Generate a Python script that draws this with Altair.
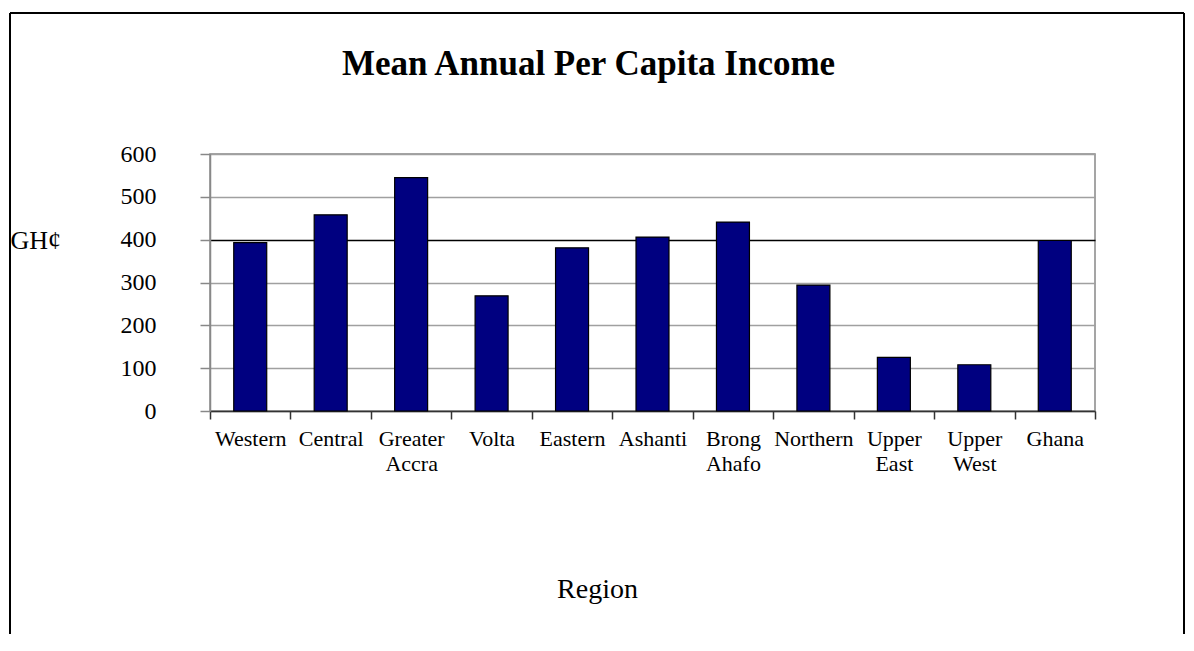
import altair as alt
import pandas as pd

regions = ["Western", "Central", "Greater Accra", "Volta", "Eastern", "Ashanti",
           "Brong Ahafo", "Northern", "Upper East", "Upper West", "Ghana"]
income = [393, 458, 545, 269, 381, 406, 441, 294, 125, 108, 398]

df = pd.DataFrame({"Region": regions, "Income": income})

SERIF = "Liberation Serif"
W, H = 885, 257

bars = alt.Chart(df).mark_bar(
    color="#000080", stroke="black", strokeWidth=1.2,
    width=alt.RelativeBandSize(0.41)
).encode(
    x=alt.X("Region:N", sort=regions,
            scale=alt.Scale(paddingInner=0, paddingOuter=0),
            axis=alt.Axis(
                title="Region", titleFont=SERIF, titleFontSize=28, titleFontWeight="normal",
                titleColor="black", titleX=387, titleY=186, titleAnchor="start",
                titleAlign="center", titleBaseline="alphabetic",
                labelFont=SERIF, labelFontSize=22, labelColor="black", labelAngle=0,
                labelAlign="center", labelBaseline="top", labelPadding=9,
                labelLineHeight=25, labelExpr="split(datum.label, ' ')",
                tickBand="extent", tickSize=8, tickColor="#333", tickWidth=1.5,
                domainColor="#333", domainWidth=1.5, grid=False, labelOverlap=False)),
    y=alt.Y("Income:Q",
            scale=alt.Scale(domain=[0, 600], nice=False),
            axis=alt.Axis(
                values=[0, 100, 200, 300, 400, 500, 600],
                title="GH¢", titleFont=SERIF, titleFontSize=26, titleFontWeight="normal",
                titleColor="black", titleAngle=0, titleX=-200, titleY=86,
                titleAlign="left", titleBaseline="middle",
                labelFont=SERIF, labelFontSize=24, labelColor="black",
                labelPadding=44, tickSize=10, tickColor="#888", tickWidth=1.5,
                domainColor="#888", domainWidth=1.5,
                grid=True, gridWidth=1.5,
                gridColor={"condition": {"test": "datum.value === 400", "value": "black"},
                           "value": "#a0a0a0"})),
)

frame_top = alt.Chart(df).mark_rule(color="black", strokeWidth=2).encode(
    x=alt.value(-200), x2=alt.value(974), y=alt.value(-141))
frame_left = alt.Chart(df).mark_rule(color="black", strokeWidth=2).encode(
    x=alt.value(-200), y=alt.value(-141), y2=alt.value(480))
frame_right = alt.Chart(df).mark_rule(color="black", strokeWidth=2).encode(
    x=alt.value(974), y=alt.value(-141), y2=alt.value(480))

chart = alt.layer(bars, frame_top, frame_left, frame_right).properties(
    width=W, height=H,
    autosize=alt.AutoSizeParams(type="none"),
    padding={"left": 202, "top": 146, "right": 91, "bottom": 229},
    title=alt.TitleParams(
        "Mean Annual Per Capita Income", font=SERIF, fontSize=35, fontWeight="bold",
        color="black", anchor="middle", dx=-64, offset=-98, baseline="alphabetic"),
).configure_view(stroke="#888", strokeWidth=1.5)

chart.save("out.html", embed_options={"renderer": "svg", "actions": False})
